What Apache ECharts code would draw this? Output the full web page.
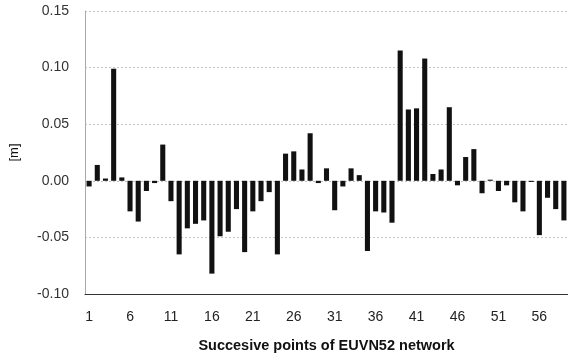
<!DOCTYPE html>
<html>
<head>
<meta charset="utf-8">
<script src="https://cdn.jsdelivr.net/npm/echarts@6/dist/echarts.min.js"></script>
<style>html,body{margin:0;padding:0;background:#fff}#c{width:568px;height:358px}</style>
</head>
<body>
<div id="c"></div>
<script>
var categories = [];
for (var i = 1; i <= 59; i++) categories.push(String(i));
var values = [
  -0.005, 0.014, 0.002, 0.099, 0.003, -0.027, -0.036, -0.009, -0.002, 0.032,
  -0.018, -0.065, -0.042, -0.038, -0.035, -0.082, -0.049, -0.045, -0.025, -0.063,
  -0.027, -0.018, -0.010, -0.065, 0.024, 0.026, 0.010, 0.042, -0.002, 0.011,
  -0.026, -0.005, 0.011, 0.005, -0.062, -0.027, -0.028, -0.037, 0.115, 0.063,
  0.064, 0.108, 0.006, 0.010, 0.065, -0.004, 0.021, 0.028, -0.011, 0.001,
  -0.009, -0.004, -0.019, -0.027, -0.001, -0.048, -0.015, -0.025, -0.035
];
var yTicks = [-0.10, -0.05, 0.00, 0.05, 0.10, 0.15];
var chart = echarts.init(document.getElementById('c'));
chart.setOption({
  animation: false,
  backgroundColor: '#fff',
  grid: {left: 80, right: -1, top: 11, bottom: 62},
  xAxis: {
    type: 'category',
    data: categories,
    name: 'Succesive points of EUVN52 network',
    nameLocation: 'middle',
    nameGap: 44,
    nameTextStyle: {fontFamily: 'Liberation Sans', fontSize: 14.5, fontWeight: 'bold', color: '#111'},
    axisLine: {onZero: false, lineStyle: {color: '#333', width: 1}},
    axisTick: {show: false},
    axisLabel: {interval: 4, fontFamily: 'Liberation Sans', fontSize: 14, color: '#222', margin: 16}
  },
  yAxis: {
    type: 'value',
    min: yTicks[0],
    max: yTicks[yTicks.length - 1],
    interval: 0.05,
    name: '[m]',
    nameLocation: 'middle',
    nameGap: 64,
    nameRotate: 90,
    nameTextStyle: {fontFamily: 'Liberation Sans', fontSize: 13, color: '#111'},
    axisLine: {show: true, lineStyle: {color: '#aaa', width: 1}},
    axisTick: {show: false},
    axisLabel: {fontFamily: 'Liberation Sans', fontSize: 14, color: '#333', margin: 16,
      formatter: function (v) { return v.toFixed(2); }},
    splitLine: {show: true, lineStyle: {color: '#c4c4c4', type: [2, 2], width: 1}}
  },
  series: [{
    type: 'bar',
    data: values,
    barCategoryGap: '38%',
    itemStyle: {color: '#111'}
  }]
});
</script>
</body>
</html>
